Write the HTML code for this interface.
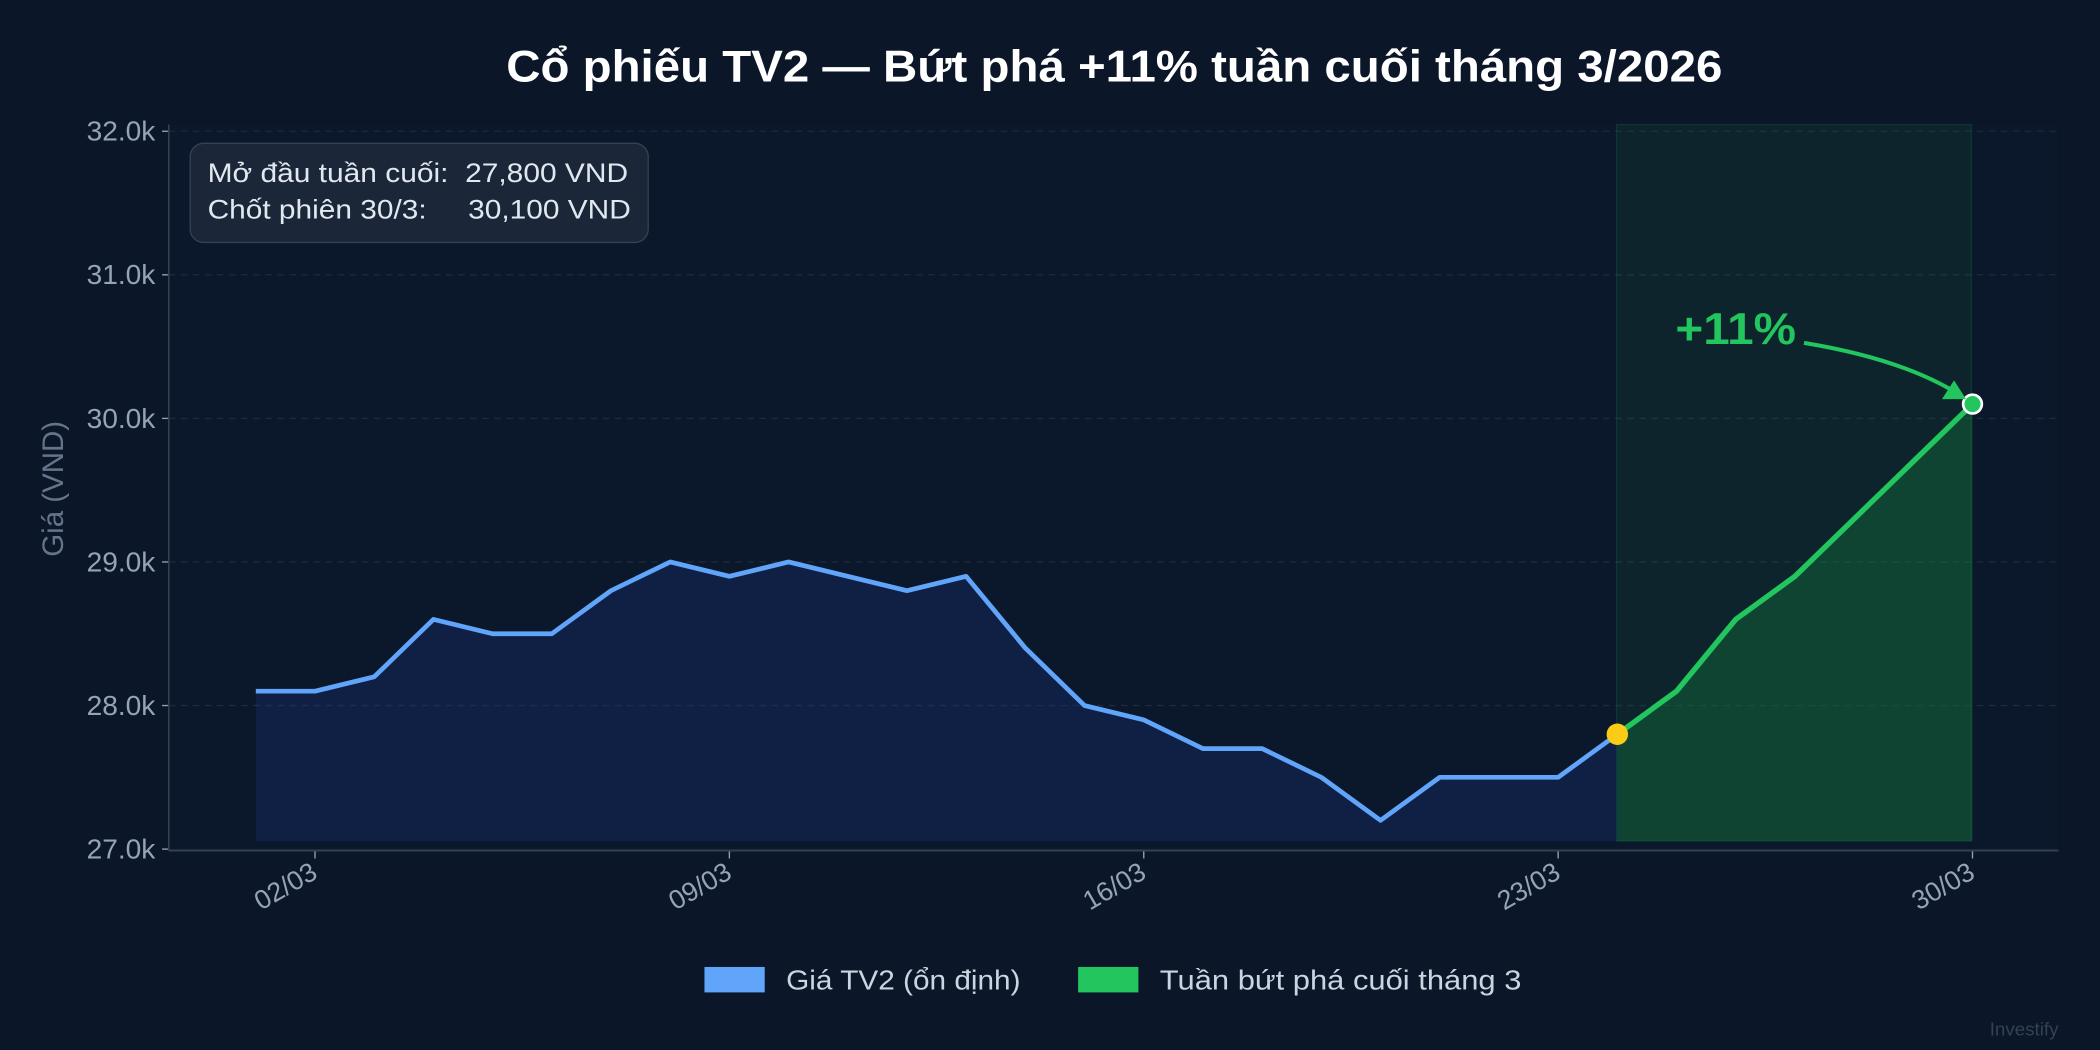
<!DOCTYPE html>
<html><head><meta charset="utf-8"><style>
html,body{margin:0;padding:0;background:#0b1628;}
svg{display:block;font-family:"Liberation Sans","DejaVu Sans",sans-serif;}
</style></head><body>
<svg id="s" width="2100" height="1050" viewBox="0 0 1568 784" xmlns="http://www.w3.org/2000/svg">
<rect width="1568" height="784" fill="#0b1628"/>
<rect x="126" y="93" width="1411" height="542" fill="#0b172a"/>
<text x="832" y="61" text-anchor="middle" fill="#ffffff" font-size="33" font-weight="bold" textLength="908" lengthAdjust="spacingAndGlyphs">Cổ phiếu TV2 — Bứt phá +11% tuần cuối tháng 3/2026</text>
<g id="grid"></g>
<rect x="1207" y="93" width="265" height="535" fill="#22c55e" fill-opacity="0.08" stroke="#22c55e" stroke-opacity="0.15"/>
<g id="data"></g>
<line x1="126" y1="93" x2="126" y2="635" stroke="#334155" stroke-width="1.2"/>
<line x1="126" y1="635" x2="1537" y2="635" stroke="#334155" stroke-width="1.5"/>
<rect x="142" y="107" width="342" height="74" rx="10" fill="#1e293b" fill-opacity="0.85" stroke="#334155"/>
<text x="155" y="136" fill="#e2e8f0" font-size="20" xml:space="preserve" style="white-space:pre" textLength="314" lengthAdjust="spacingAndGlyphs">Mở đầu tuần cuối:  27,800 VND</text>
<text x="155" y="163" fill="#e2e8f0" font-size="20" xml:space="preserve" style="white-space:pre" textLength="316" lengthAdjust="spacingAndGlyphs">Chốt phiên 30/3:     30,100 VND</text>
<text x="1296" y="257" text-anchor="middle" fill="#22c55e" font-size="33" font-weight="bold" textLength="90" lengthAdjust="spacingAndGlyphs">+11%</text>
<path d="M1347,256 Q1420,268 1462,294" fill="none" stroke="#22c55e" stroke-width="3"/>
<polygon points="1468,298 1450,298 1459,284" fill="#22c55e"/>
<text transform="translate(47,365) rotate(-90)" text-anchor="middle" fill="#64748b" font-size="22">Giá (VND)</text>
<rect x="526" y="722" width="45" height="19" fill="#60a5fa"/>
<text x="587" y="739" fill="#cbd5e1" font-size="21" textLength="175" lengthAdjust="spacingAndGlyphs">Giá TV2 (ổn định)</text>
<rect x="805" y="722" width="45" height="19" fill="#22c55e"/>
<text x="866" y="739" fill="#cbd5e1" font-size="21" textLength="270" lengthAdjust="spacingAndGlyphs">Tuần bứt phá cuối tháng 3</text>
<text x="1537" y="773" text-anchor="end" fill="#334155" font-size="14">Investify</text>
</svg>
<script>
var NS="http://www.w3.org/2000/svg";
function el(p,t,a,txt){var e=document.createElementNS(NS,t);for(var k in a)e.setAttribute(k,a[k]);if(txt)e.textContent=txt;document.getElementById(p).appendChild(e);return e;}
function Y(v){return 634-(v-27)*107.2;}
function X(d){return 191+(d-1)*44.2;}
for(var v=27;v<=32;v++){var y=Y(v);
 if(v>27)el("grid","line",{x1:126,x2:1537,y1:y,y2:y,stroke:"#1e293b","stroke-dasharray":"5,4"});
 el("grid","line",{x1:121,x2:126,y1:y,y2:y,stroke:"#94a3b8"});
 el("grid","text",{x:116,y:y+7,"text-anchor":"end",fill:"#94a3b8","font-size":"21"},v.toFixed(1)+"k");}
[[2,"02/03"],[9,"09/03"],[16,"16/03"],[23,"23/03"],[30,"30/03"]].forEach(function(t){var x=X(t[0]);
 el("grid","line",{x1:x,x2:x,y1:635,y2:641,stroke:"#94a3b8"});
 el("grid","text",{transform:"translate("+(x+3)+",655) rotate(-30)","text-anchor":"end",fill:"#94a3b8","font-size":"20"},t[1]);});
var d=[28.1,28.1,28.2,28.6,28.5,28.5,28.8,29.0,28.9,29.0,28.9,28.8,28.9,28.4,28.0,27.9,27.7,27.7,27.5,27.2,27.5,27.5,27.5,27.8,28.1,28.6,28.9,29.3,29.7,30.1];
var b="",g="";for(var i=0;i<24;i++)b+=X(i+1)+","+Y(d[i])+" ";
for(var i=23;i<30;i++)g+=X(i+1)+","+Y(d[i])+" ";
el("data","polygon",{points:b+X(24)+",628 "+X(1)+",628",fill:"#1e3a8a","fill-opacity":"0.28"});
el("data","polygon",{points:g+X(30)+",628 "+X(24)+",628",fill:"#15803d","fill-opacity":"0.35"});
el("data","polyline",{points:b,fill:"none",stroke:"#60a5fa","stroke-width":"3.5","stroke-linejoin":"round"});
el("data","polyline",{points:g,fill:"none",stroke:"#22c55e","stroke-width":"4","stroke-linejoin":"round"});
el("data","circle",{cx:X(24),cy:Y(27.8),r:8,fill:"#facc15"});
el("data","circle",{cx:X(30),cy:Y(30.1),r:7,fill:"#22c55e",stroke:"#ffffff","stroke-width":"2"});
</script>
</body></html>
